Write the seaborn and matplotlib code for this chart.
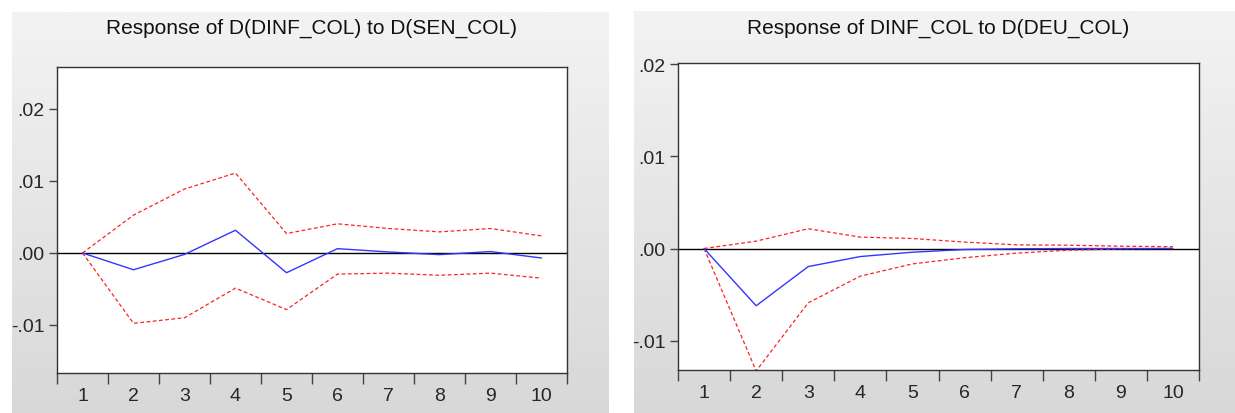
import matplotlib
matplotlib.use("Agg")
import matplotlib.pyplot as plt
import numpy as np
import pandas as pd
import seaborn as sns

periods = list(range(1, 11))

# Response of D(DINF_COL) to D(SEN_COL)
sen_resp = [0.0, -0.00233, -0.0002, 0.00316, -0.00274, 0.0006, 0.00014, -0.00023, 0.0002, -0.0007]
sen_upper = [0.0, 0.00526, 0.00888, 0.0111, 0.0027, 0.00405, 0.0034, 0.00293, 0.0034, 0.00237]
sen_lower = [0.0, -0.00977, -0.0090, -0.00488, -0.00786, -0.00293, -0.0028, -0.0031, -0.0028, -0.0035]

# Response of DINF_COL to D(DEU_COL)
deu_resp = [0.0, -0.00622, -0.00196, -0.00087, -0.0004, -0.00011, -0.00003, 0.0, 0.0, 0.0]
deu_upper = [0.0, 0.0008, 0.00215, 0.00124, 0.00109, 0.0007, 0.0004, 0.00036, 0.00025, 0.0002]
deu_lower = [0.0, -0.0133, -0.0059, -0.0030, -0.00167, -0.0010, -0.0005, -0.00018, -0.00004, 0.00003]

yticks = [-0.01, 0.0, 0.01, 0.02]
ytick_labels = ["-.01", ".00", ".01", ".02"]

sns.set_theme(style="white")
plt.rcParams["font.family"] = ["Liberation Sans", "DejaVu Sans"]

W, H = 1235, 414
fig = plt.figure(figsize=(W / 100, H / 100), dpi=100)
fig.patch.set_facecolor("white")


def panel_bg(x0, y0, x1, y1):
    # gray gradient panel behind each chart (pixel coords, top-left origin)
    bg = fig.add_axes([x0 / W, 1 - y1 / H, (x1 - x0) / W, (y1 - y0) / H], zorder=-10)
    grad = np.linspace(0, 1, 256).reshape(-1, 1)
    cmap = matplotlib.colors.LinearSegmentedColormap.from_list("g", ["#f3f3f3", "#d8d8d8"])
    bg.imshow(grad, aspect="auto", cmap=cmap, extent=[0, 1, 0, 1], origin="upper")
    bg.set_axis_off()


def irf_panel(rect, title, resp, upper, lower, ylim):
    x0, y0, x1, y1 = rect
    ax = fig.add_axes([x0 / W, 1 - y1 / H, (x1 - x0) / W, (y1 - y0) / H])
    ax.set_facecolor("white")
    df = pd.DataFrame({"Period": periods, "resp": resp, "upper": upper, "lower": lower})

    ax.axhline(0, color="black", lw=1.0, zorder=1)
    sns.lineplot(x="Period", y="upper", data=df, ax=ax, color="#ff2020", lw=0.9,
                 linestyle=(0, (3, 2)), zorder=2)
    sns.lineplot(x="Period", y="lower", data=df, ax=ax, color="#ff2020", lw=0.9,
                 linestyle=(0, (3, 2)), zorder=2)
    sns.lineplot(x="Period", y="resp", data=df, ax=ax, color="#3535ff", lw=1.0, zorder=3)

    ax.set_xlim(0.5, 10.5)
    ax.set_ylim(*ylim)
    ax.set_xticks(np.arange(0.5, 11, 1))
    ax.set_xticklabels([])
    ax.set_xticks(periods, minor=True)
    ax.set_xticklabels([str(p) for p in periods], minor=True)
    ax.tick_params(axis="x", which="major", direction="out", length=8, width=1,
                   color="#444444", bottom=True)
    ax.tick_params(axis="x", which="minor", length=0, pad=10, labelsize=14)
    ax.set_yticks(yticks)
    ax.set_yticklabels(ytick_labels)
    ax.tick_params(axis="y", direction="out", length=6, width=1, color="#444444",
                   left=True, labelsize=14, pad=3)
    ax.set_xlabel("")
    ax.set_ylabel("")
    for s in ax.spines.values():
        s.set_color("#333333")
        s.set_linewidth(1.0)
    cx = (x0 + x1) / 2 / W
    fig.text(cx, 1 - 28 / H, title, ha="center", va="center", fontsize=15, color="#111111")
    return ax


panel_bg(12, 13, 609, 414)
panel_bg(634, 12, 1235, 414)

irf_panel((57, 68, 567, 374), "Response of D(DINF_COL) to D(SEN_COL)",
          sen_resp, sen_upper, sen_lower, (-0.01667, 0.02583))
irf_panel((678, 64, 1199, 371), "Response of DINF_COL to D(DEU_COL)",
          deu_resp, deu_upper, deu_lower, (-0.0132, 0.02016))

fig.savefig("out.png", dpi=100)
